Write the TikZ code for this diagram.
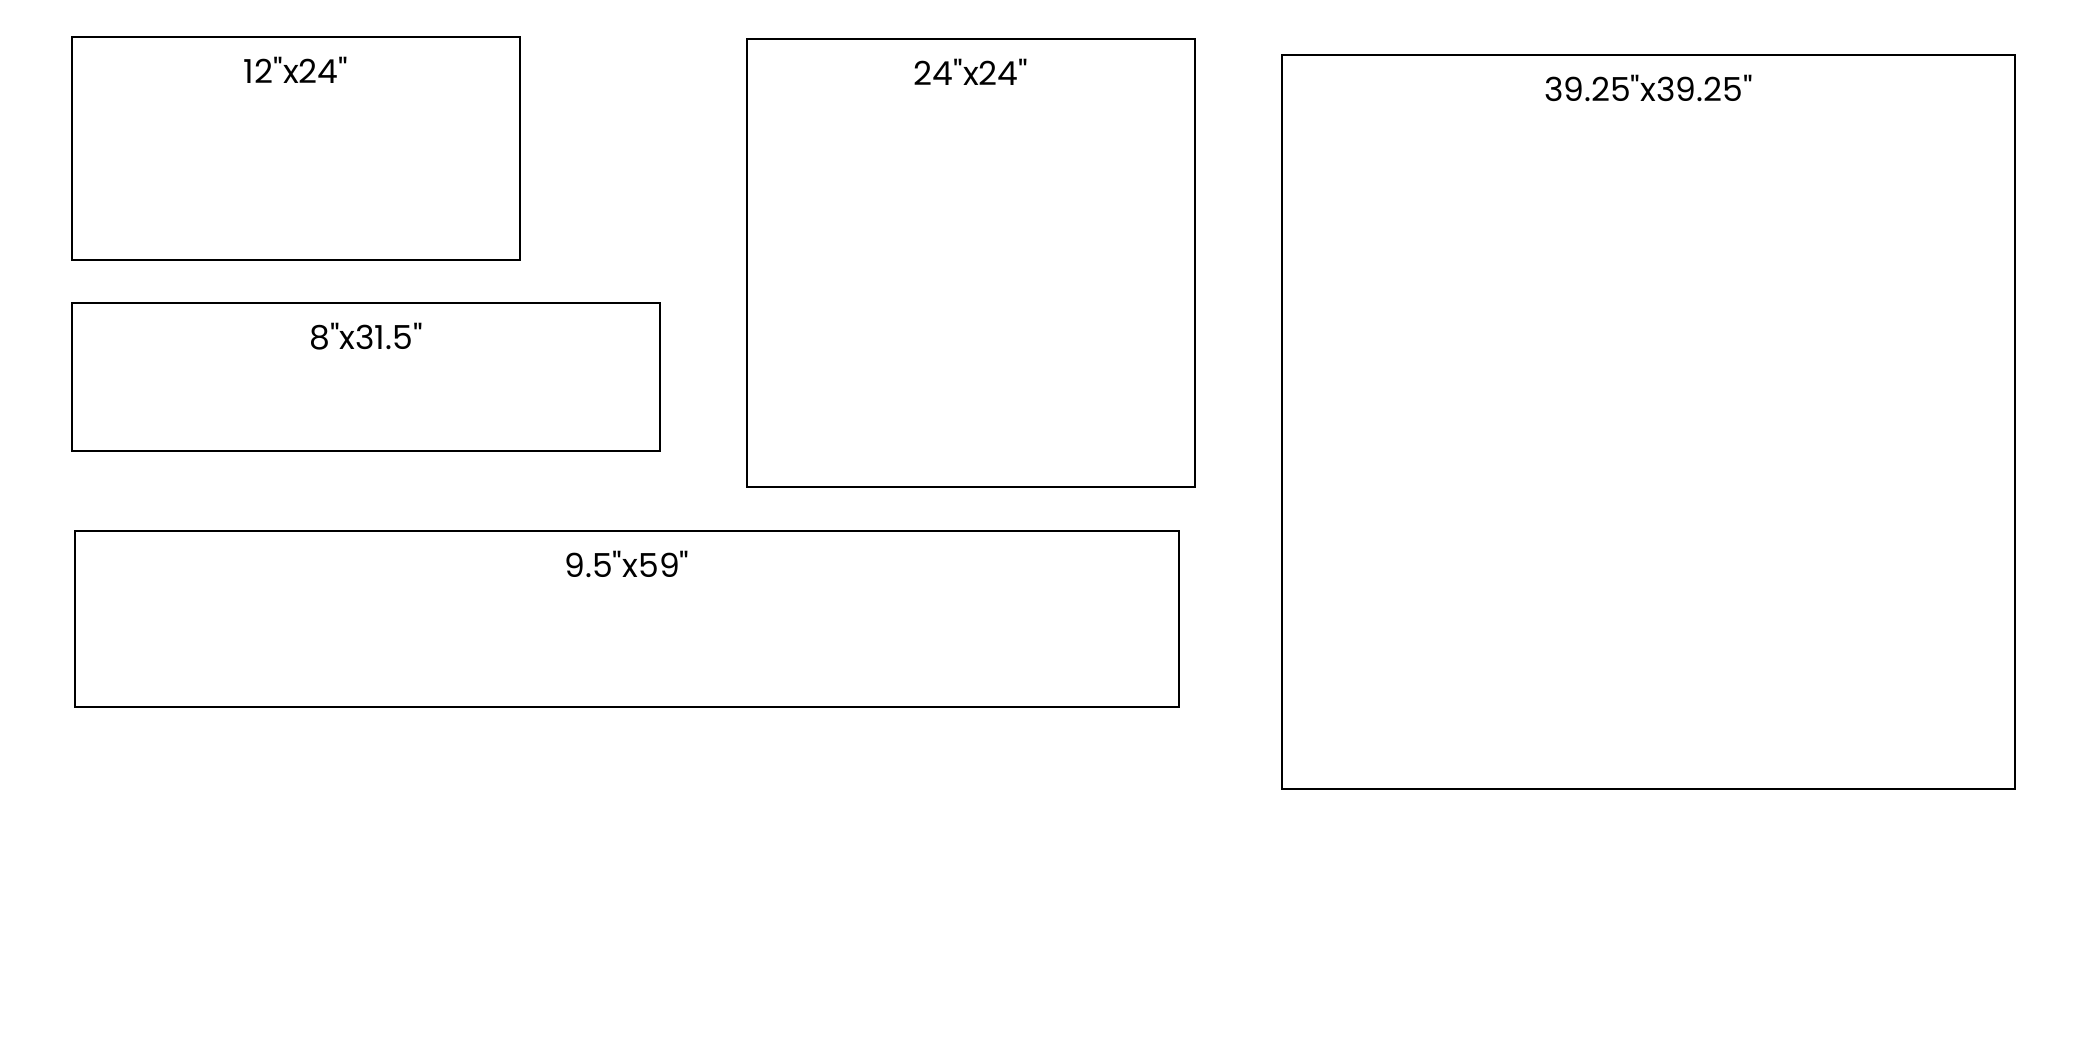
\documentclass[tikz,border=0pt]{standalone}
\usepackage{fontspec}
\newfontfamily\sizefont{Poppins}
\tikzset{
  panel/.style={black, line width=1pt},
  size/.style={font=\sizefont\fontsize{16.5}{20}\selectfont, inner sep=0pt}
}
\begin{document}
\begin{tikzpicture}[x=0.5pt, y=-0.5pt]
            \useasboundingbox (0,0) rectangle (2083,1042);
            \draw[panel](72,37) rectangle (520,260);
            \draw[panel](72,303) rectangle (660,451);
            \draw[panel](747,39) rectangle (1195,487);
            \draw[panel](75,531) rectangle (1179,707);
            \draw[panel](1282,55) rectangle (2015,789);
            \node[size] (s1) at (296,70) {12"x24"};
            \node[size] (s2) at (366,337) {8"x31.5"};
            \node[size] (s3) at (971,72) {24"x24"};
            \node[size] (s4) at (627,564) {9.5"x59"};
            \node[size] (s5) at (1648.5,88) {39.25"x39.25"};
        \end{tikzpicture}
\end{document}
